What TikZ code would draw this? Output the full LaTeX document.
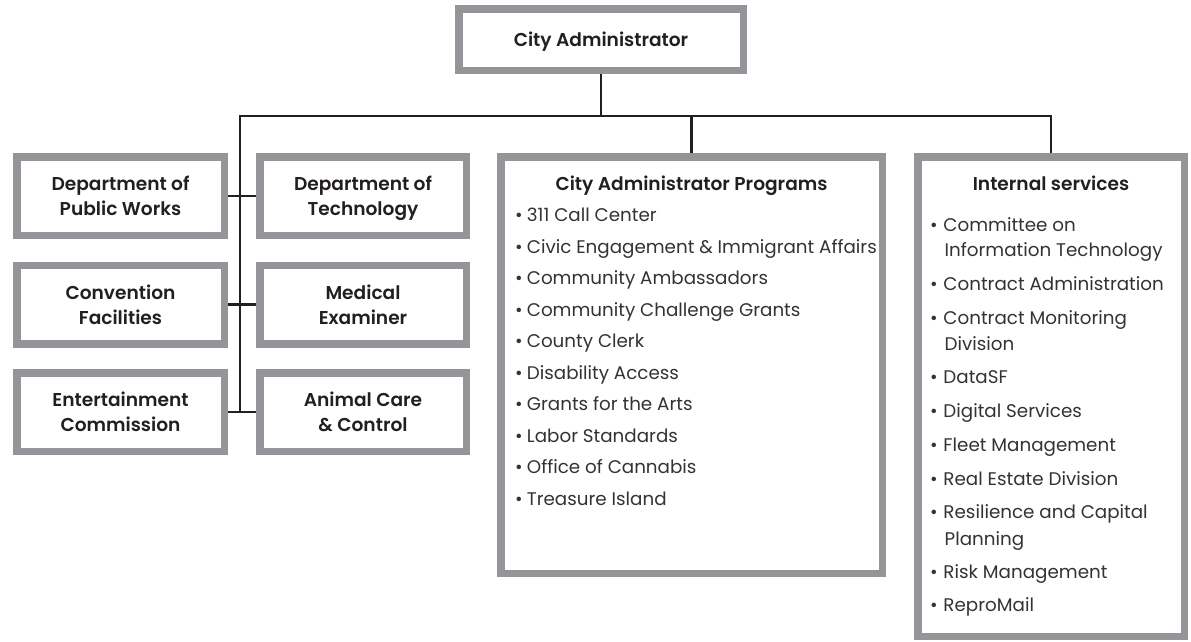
\documentclass[tikz,border=0pt]{standalone}
\usepackage{fontspec}
\setmainfont{Poppins}[BoldFont={Poppins SemiBold}]
\usetikzlibrary{backgrounds}
\definecolor{boxgray}{HTML}{939598}
\definecolor{ink}{HTML}{231F20}
\definecolor{itemink}{HTML}{333333}
\tikzset{
  box/.style={draw=boxgray, line width=7.5pt, fill=white, inner sep=0pt, align=center,
    text depth=0pt, font=\bfseries\fontsize{18.6}{25}\selectfont, text=ink},
  conn/.style={draw=ink, line width=2.6pt},
  item/.style={anchor=base west, inner sep=0pt, font=\fontsize{18.3}{20}\selectfont, text=itemink},
  head/.style={anchor=base, inner sep=0pt, font=\bfseries\fontsize{18.6}{20}\selectfont, text=ink},
  lbox/.style={box, minimum width=207.5pt, minimum height=78.5pt},
  rbox/.style={box, minimum width=206.5pt, minimum height=78.5pt},
}
\begin{document}
\begin{tikzpicture}[x=1pt,y=-1pt]
\useasboundingbox (0,0) rectangle (1191,641);
% boxes
\node[box, minimum width=284.5pt, minimum height=61.5pt] (top) at (601,39.5) {City Administrator};
\node[lbox] (dpw) at (120.5,196) {Department of\\Public Works};
\node[rbox] (dot) at (363,196) {Department of\\Technology};
\node[lbox] (conv) at (120.5,304.5) {Convention\\Facilities};
\node[rbox] (med) at (363,304.5) {Medical\\Examiner};
\node[lbox] (ent) at (120.5,412) {Entertainment\\Commission};
\node[rbox] (acc) at (363,412) {Animal Care\\\& Control};
\node[box, minimum width=381.5pt, minimum height=416.5pt] (prog) at (691.5,365) {};
\node[box, minimum width=266.5pt, minimum height=479.5pt] (int) at (1051,396.5) {};
% connectors
\coordinate (hL) at (240,116);
\coordinate (busEnd) at (240,412);
\begin{scope}[on background layer]
\draw[conn] (top) -- (top |- hL);
\draw[conn] (busEnd) -- (hL) -| (int);
\draw[conn] (prog) -- (prog |- hL);
\draw[conn] (dpw) -- (dot);
\draw[conn] (conv) -- (med);
\draw[conn] (ent) -- (acc);
\end{scope}
% programs list
\node[head] (progT) at (691.5,190) {City Administrator Programs};
\foreach \y/\t [count=\i] in {221.5/311 Call Center, 253/Civic Engagement \& Immigrant Affairs,
  284.5/Community Ambassadors, 316/Community Challenge Grants, 347.5/County Clerk,
  379/Disability Access, 410.5/Grants for the Arts, 442/Labor Standards,
  473.5/Office of Cannabis, 505/Treasure Island}
  \node[item] (p\i) at (515,\y) {\makebox[11.7pt][l]{\textbullet}\t};
% internal services list
\node[head] (intT) at (1051,190) {Internal services};
\foreach \y/\t [count=\i] in {231/Committee on, 290.7/Contract Administration,
  324/Contract Monitoring, 383.3/DataSF, 417.7/Digital Services, 451/Fleet Management,
  485/Real Estate Division, 518.3/Resilience and Capital, 578.3/Risk Management,
  611.7/ReproMail}
  \node[item] (s\i) at (930,\y) {\makebox[13.3pt][l]{\textbullet}\t};
\foreach \y/\t [count=\i] in {256.7/Information Technology, 350/Division, 545/Planning}
  \node[item] (c\i) at (944.5,\y) {\t};
\end{tikzpicture}
\end{document}
